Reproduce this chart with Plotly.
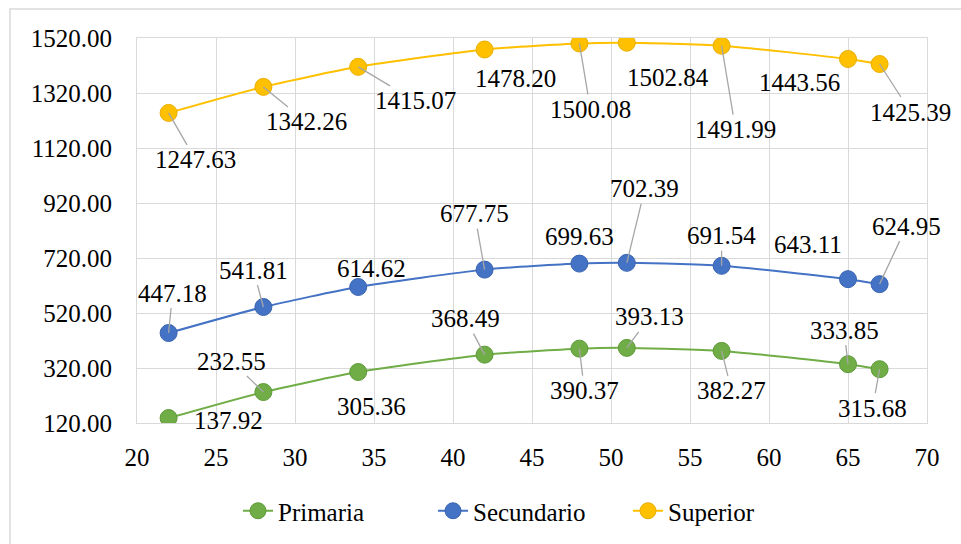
import plotly.graph_objects as go

edad = [22, 28, 34, 42, 48, 51, 57, 65, 67]
primaria = [137.92, 232.55, 305.36, 368.49, 390.37, 393.13, 382.27, 333.85, 315.68]
secundario = [447.18, 541.81, 614.62, 677.75, 699.63, 702.39, 691.54, 643.11, 624.95]
superior = [1247.63, 1342.26, 1415.07, 1478.20, 1500.08, 1502.84, 1491.99, 1443.56, 1425.39]

series_names = ["Primaria", "Secundario", "Superior"]
colors = ["#70AD47", "#4472C4", "#FFC000"]
edges = ["#5E9A38", "#3A64B0", "#E8AE00"]

# label placement (pixel offsets dx, dy (down positive), leader line flag)
label_offsets = {
    "Primaria": [(60, 2, False), (-32, -31, True), (13, 34, True), (-19, -36, True), (5, 42, True),
                 (23, -31, True), (10, 40, True), (-4, -34, True), (-7, 39, True)],
    "Secundario": [(4, -40, True), (-10, -37, True), (13, -18, False), (-10, -56, True), (0, -27, False),
                   (18, -74, True), (0, -30, True), (-40, -35, False), (27, -58, True)],
    "Superior": [(27, 47, True), (43, 35, True), (57, 34, True), (31, 29, False), (11, 66, True),
                 (41, 35, False), (14, 84, True), (-49, 23, False), (31, 48, True)],
}

FONT = "Liberation Serif"
fig = go.Figure()
data = [primaria, secundario, superior]
annotations = []
for name, vals, col, edge in zip(series_names, data, colors, edges):
    fig.add_trace(go.Scatter(
        x=edad, y=vals, name=name, mode="lines+markers",
        line=dict(color=col, width=2, shape="spline", smoothing=0.6),
        marker=dict(color=col, size=17, line=dict(color=edge, width=1)),
    ))
    for xv, yv, (dx, dy, lead) in zip(edad, vals, label_offsets[name]):
        txt = f"{yv:.2f}"
        if lead:
            annotations.append(dict(
                x=xv, y=yv, xref="x", yref="y", text=txt, showarrow=True,
                ax=dx, ay=dy, axref="pixel", ayref="pixel",
                arrowhead=0, arrowwidth=1.3, arrowcolor="#A6A6A6", standoff=0,
                font=dict(family=FONT, size=25, color="#000000"),
            ))
        else:
            annotations.append(dict(
                x=xv, y=yv, xref="x", yref="y", text=txt, showarrow=False,
                xshift=dx, yshift=-dy, xanchor="center", yanchor="middle",
                font=dict(family=FONT, size=25, color="#000000"),
            ))

W, H = 961, 544
L, R, T, B = 137, 34, 38, 121
pw, ph = W - L - R, H - T - B

shapes = [dict(type="rect", xref="paper", yref="paper",
               x0=(10 - L) / pw, x1=(W + 5 - L) / pw,
               y0=1 - (H + 5 - T) / ph, y1=1 - (9 - T) / ph,
               line=dict(color="#D9D9D9", width=1.5), fillcolor="rgba(0,0,0,0)", layer="below")]

fig.update_layout(
    width=W, height=H,
    margin=dict(l=L, r=R, t=T, b=B),
    paper_bgcolor="white", plot_bgcolor="white",
    font=dict(family=FONT, size=25, color="#000000"),
    xaxis=dict(range=[20, 70], dtick=5, tick0=20, showgrid=True, gridcolor="#D9D9D9", gridwidth=1,
               showline=True, linecolor="#D9D9D9", mirror=True, zeroline=False,
               ticks="", ticklabelstandoff=12, tickfont=dict(family=FONT, size=25)),
    yaxis=dict(range=[120, 1520], dtick=200, tick0=120, showgrid=True, gridcolor="#D9D9D9", gridwidth=1,
               showline=True, linecolor="#D9D9D9", mirror=True, zeroline=False,
               tickformat=".2f", ticks="", ticklabelstandoff=19, tickfont=dict(family=FONT, size=25)),
    legend=dict(orientation="h", xref="container", yref="container", x=238 / W, y=1 - 511 / H,
                xanchor="left", yanchor="middle", font=dict(family=FONT, size=25),
                entrywidth=150, entrywidthmode="pixels"),
    annotations=annotations,
    shapes=shapes,
    showlegend=True,
)

fig.write_html("out.html", post_script="document.body.style.margin='0';",
               config={"displayModeBar": False})
